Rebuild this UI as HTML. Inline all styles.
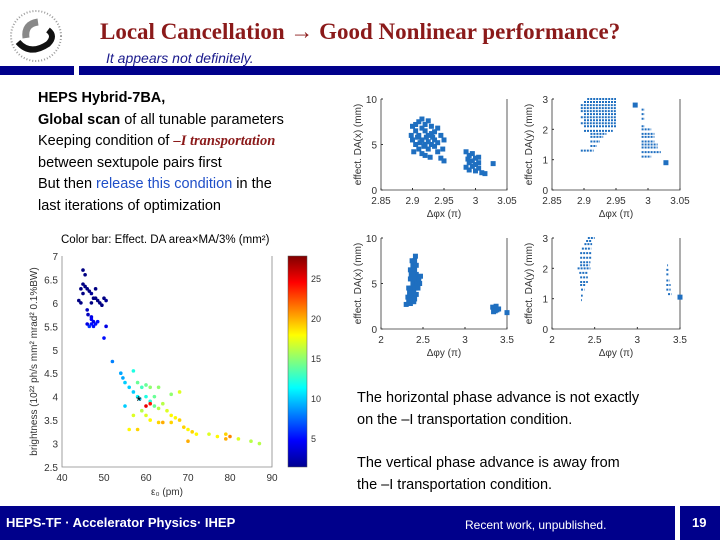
<!DOCTYPE html>
<html><head><meta charset="utf-8"><style>
body{margin:0;width:720px;height:540px;position:relative;background:#fff;overflow:hidden;font-family:"Liberation Sans",sans-serif}
.a{position:absolute;white-space:nowrap}
</style></head><body>
<svg class="a" style="left:8px;top:8px" width="58" height="58">
<circle cx="28" cy="28" r="25" fill="none" stroke="#999" stroke-width="2" stroke-dasharray="1 2"/>
<path d="M10 34 Q22 48 40 36 Q48 28 40 22" stroke="#111" stroke-width="6" fill="none"/>
<path d="M18 30 Q16 16 30 14" stroke="#888" stroke-width="7" fill="none"/>
</svg>
<div class="a" style="left:100px;top:19px;font:bold 23px 'Liberation Serif',serif;color:#8b1a1a">Local Cancellation → Good Nonlinear performance?</div>
<div class="a" style="left:106px;top:50px;font:italic 14px 'Liberation Sans',sans-serif;color:#1a1a8c">It appears not definitely.</div>
<div class="a" style="left:0;top:66px;width:74px;height:9px;background:#00008b"></div>
<div class="a" style="left:79px;top:66px;width:641px;height:9px;background:#00008b"></div>
<div class="a" style="left:38px;top:88px;font-size:14.5px;line-height:21.5px;color:#000">
<b>HEPS Hybrid-7BA,</b><br><b>Global scan</b> of all tunable parameters<br>Keeping condition of <b style="color:#8b1a1a;font-family:'Liberation Serif',serif;font-style:italic">–I transportation</b><br>between sextupole pairs first<br>But then <span style="color:#1f4fc8">release this condition</span> in the<br>last iterations of optimization</div>
<div class="a" style="left:61px;top:234px;font-size:11.5px">Color bar: Effect. DA area×MA/3% (mm²)</div>
<div class="a" style="left:357px;top:388px;font-size:14.5px;line-height:21.5px">The horizontal phase advance is not exactly<br>on the –I transportation condition.</div>
<div class="a" style="left:357px;top:453px;font-size:14.5px;line-height:21.5px">The vertical phase advance is away from<br>the –I transportation condition.</div>
<div class="a" style="left:0;top:506px;width:675px;height:34px;background:#00008b"></div>
<div class="a" style="left:680px;top:506px;width:40px;height:34px;background:#00008b"></div>
<div class="a" style="left:6px;top:515px;font:bold 13px 'Liberation Sans',sans-serif;color:#fff">HEPS-TF · Accelerator Physics· IHEP</div>
<div class="a" style="left:465px;top:518px;font-size:12px;color:#fff">Recent work, unpublished.</div>
<div class="a" style="left:692px;top:515px;font:bold 13px 'Liberation Sans',sans-serif;color:#fff">19</div>
<svg id="s" class="a" style="left:0;top:0" width="720" height="540"></svg>
<script>
// ---- data: small chart TL (x: Δφx, y: DA x) ----
const tlPts=[[2.9,7],[2.905,6.5],[2.91,7.5],[2.915,7.8],[2.92,7.2],[2.925,7.6],[2.93,7],[2.935,6.4],[2.94,6.8],[2.945,6],[2.95,5.5],[2.898,6],[2.9,5.5],[2.905,5],[2.91,4.5],[2.915,4],[2.92,3.8],[2.925,4.5],[2.93,5],[2.935,5.5],[2.94,4.2],[2.945,3.5],[2.95,3.2],[2.91,6],[2.915,5.5],[2.92,5],[2.925,6],[2.93,6.2],[2.92,6.5],[2.912,5.2],[2.918,4.8],[2.908,5.8],[2.935,4.8],[2.94,5.2],[2.948,4.5],[2.902,4.2],[2.928,3.6],[2.922,5.8],[2.915,6.8],[2.932,5.8],[2.905,7.2],[2.925,5.3],
[2.985,4.2],[2.99,3.8],[2.995,4],[3,3.5],[3.005,3],[2.99,3],[2.985,2.5],[2.99,2.2],[2.995,2.6],[3,2.1],[3.005,2.4],[3.01,1.9],[3.015,1.8],[2.995,3.2],[3,2.8],[2.988,3.4],[3.005,3.6],[3.028,2.9]];
// rows: [y, xStart, xEnd]
const trRows=[[3,2.905,2.95],[2.9,2.9,2.95],[2.8,2.895,2.95],[2.7,2.895,2.95],[2.6,2.895,2.95],[2.5,2.9,2.95],[2.4,2.895,2.95],[2.3,2.9,2.95],[2.2,2.895,2.95],[2.1,2.9,2.95],[1.95,2.9,2.945],[1.85,2.91,2.935],[1.75,2.91,2.93],[1.6,2.91,2.925],[1.45,2.91,2.92],[1.3,2.895,2.915],
[2.65,2.99,2.995],[2.5,2.99,2.995],[2.35,2.99,2.995],[2.1,2.99,2.995],[2,2.99,3.005],[1.85,2.99,3.01],[1.75,2.99,3.01],[1.6,2.99,3.01],[1.5,2.99,3.015],[1.4,2.99,3.015],[1.25,2.99,3.02],[1.1,2.99,3.005]];
const trPts=[[2.98,2.8],[3.028,0.9]];
const blPts=[[2.33,3],[2.35,2.8],[2.32,3.5],[2.34,4],[2.36,4.5],[2.38,5],[2.4,5.5],[2.42,6],[2.4,6.5],[2.38,7],[2.4,7.5],[2.41,8],[2.36,6],[2.35,5.5],[2.37,3.5],[2.39,4],[2.41,4.5],[2.43,5],[2.45,5.5],[2.44,4.5],[2.46,5],[2.42,3.8],[2.39,3],[2.33,4.5],[2.35,6.5],[2.38,6],[2.42,7],[2.37,7.5],[2.3,2.7],[2.34,3.2],[2.4,3.3],[2.47,5.8],
[3.33,2.4],[3.35,2.2],[3.37,2.5],[3.38,2.1],[3.34,1.9],[3.36,2],[3.4,2.2],[3.5,1.8]];
const brRows=[[3,2.42,2.5],[2.9,2.4,2.47],[2.8,2.38,2.47],[2.65,2.35,2.46],[2.5,2.33,2.47],[2.35,2.33,2.46],[2.2,2.33,2.45],[2.1,2.33,2.44],[2,2.3,2.45],[1.85,2.32,2.42],[1.7,2.33,2.42],[1.55,2.33,2.42],[1.45,2.33,2.4],[1.3,2.34,2.38],[1.1,2.34,2.36],[0.95,2.34,2.35],
[2.1,3.35,3.36],[1.95,3.34,3.37],[1.8,3.34,3.37],[1.6,3.34,3.38],[1.45,3.34,3.39],[1.3,3.34,3.39],[1.15,3.36,3.4]];
const brPts=[[3.5,1.05]];
// ---- big scatter: [emittance pm, brightness, effective DA area] ----
const bigPts=[[45,6.7,1.5],[45.5,6.6,1.5],[44.5,6.3,1.5],[45,6.4,1.5],[45.5,6.35,1.5],[46,6.3,1.5],[45,6.2,1.5],[46.5,6.25,1.5],[47,6.2,2],[48,6.3,1.5],[47.5,6.1,1.5],[48.5,6.05,1.5],[49,6.0,1.5],[49.5,5.95,1.5],[50,6.1,1.5],[50.5,6.05,2],[48,6.1,1.5],[47,6.0,1.5],[44,6.05,1.5],[44.5,6.0,1.5],[46,5.85,3],[46.2,5.75,3],[47,5.7,4],[47.5,5.6,4],[47,5.55,5],[48,5.55,5],[46.5,5.5,6],[47.5,5.5,5],[48.5,5.6,5],[46,5.55,4],[50.5,5.5,4],[50,5.25,5],[47,5.65,4.5],
[52,4.75,8],[54,4.5,9],[54.5,4.4,9],[55,4.3,10],[56,4.2,10],[57,4.1,10],[58,4.0,11],[58.5,3.95,10],[59,4.2,13],[60,4.25,14],[61,4.2,15],[58,4.3,14],[63,4.2,15],[62,4.0,14],[60,4.0,12],[61,3.9,12],[62,3.8,14],[63,3.75,16],[64,3.85,16],[65,3.7,17],[66,3.6,18],[67,3.55,18],[68,3.5,19],[66,3.45,19],[64,3.45,20],[63,3.45,19],[61,3.5,18],[60,3.6,17],[59,3.7,16],[57,3.6,17],[56,3.3,18],[58,3.3,19],[69,3.35,19],[70,3.3,18],[71,3.25,19],[72,3.2,18],[70,3.05,20],[75,3.2,17],[77,3.15,18],[79,3.2,19],[79,3.1,20],[80,3.15,21],[82,3.1,17],[85,3.05,16],[87,3.0,16],[57,4.55,12],[66,4.05,15],[68,4.1,17],[55,3.8,10],[61,3.85,24],[60,3.8,25]];
const bigXTicks=[40,50,60,70,80,90];
const bigYTicks=[2.5,3,3.5,4,4.5,5,5.5,6,6.5,7];
const cbTicks=[5,10,15,20,25];

const S=document.getElementById('s'),NS='http://www.w3.org/2000/svg';
function mk(t,a){const e=document.createElementNS(NS,t);for(const k in a)e.setAttribute(k,a[k]);S.appendChild(e);return e;}
function txt(x,y,s,anc,size,name){const e=mk('text',{x:x,y:y,'text-anchor':anc,'font-size':size,fill:'#333','font-family':'Liberation Sans,sans-serif'});e.textContent=s;

return e;}
function lin(d0,d1,r0,r1){return v=>r0+(v-d0)/(d1-d0)*(r1-r0);}
function panel(o){
 const X=lin(o.xd[0],o.xd[1],o.l,o.r),Y=lin(o.yd[0],o.yd[1],o.b,o.t);
 const ax=mk('path',{d:`M${o.l} ${o.t}V${o.b}H${o.r}V${o.t}`,stroke:'#333','stroke-width':0.8,fill:'none'});
 
 
 o.xt.forEach(v=>{txt(X(v),o.b+14,String(v),'middle',10,o.name+'-x-tick');mk('line',{x1:X(v),x2:X(v),y1:o.b,y2:o.b-2,stroke:'#333'});});
 o.yt.forEach(v=>{txt(o.l-4,Y(v)+4,String(v),'end',10,o.name+'-y-tick');mk('line',{x1:o.l,x2:o.l+2,y1:Y(v),y2:Y(v),stroke:'#333'});});
 txt((o.l+o.r)/2,o.b+27,o.xl,'middle',10,o.name+'-x-title');
 const yt=txt(0,0,o.yl,'middle',10,o.name+'-y-title');yt.setAttribute('transform',`translate(${o.l-20},${(o.t+o.b)/2}) rotate(-90)`);
 (o.pts||[]).forEach(p=>{const m=mk('rect',{x:X(p[0])-2.5,y:Y(p[1])-2.5,width:5,height:5,fill:'#1f6fc0'});
  
  });
 (o.rows||[]).forEach(r=>{const m=mk('line',{x1:X(r[1]),x2:X(r[2]),y1:Y(r[0]),y2:Y(r[0]),stroke:'#1f6fc0','stroke-width':2,'stroke-dasharray':'2 1'});
  
  });
}
panel({name:'da-x-vs-phix',l:381,r:507,t:99,b:190,xd:[2.85,3.05],yd:[0,10],xt:[2.85,2.9,2.95,3,3.05],yt:[0,5,10],xl:'Δφx (π)',yl:'effect. DA(x) (mm)',pts:tlPts});
panel({name:'da-y-vs-phix',l:552,r:680,t:99,b:190,xd:[2.85,3.05],yd:[0,3],xt:[2.85,2.9,2.95,3,3.05],yt:[0,1,2,3],xl:'Δφx (π)',yl:'effect. DA(y) (mm)',pts:trPts,rows:trRows});
panel({name:'da-x-vs-phiy',l:381,r:507,t:238,b:329,xd:[2,3.5],yd:[0,10],xt:[2,2.5,3,3.5],yt:[0,5,10],xl:'Δφy (π)',yl:'effect. DA(x) (mm)',pts:blPts});
panel({name:'da-y-vs-phiy',l:552,r:680,t:238,b:329,xd:[2,3.5],yd:[0,3],xt:[2,2.5,3,3.5],yt:[0,1,2,3],xl:'Δφy (π)',yl:'effect. DA(y) (mm)',pts:brPts,rows:brRows});

// big scatter
function jet(t){t=Math.max(0,Math.min(1,t));const f=(a)=>Math.round(255*Math.max(0,Math.min(1,1.5-Math.abs(4*t-a))));return `rgb(${f(3)},${f(2)},${f(1)})`;}
const BL=62,BR=272,BT=256,BB=467,C0=1.4,C1=27.75;
const BX=lin(40,90,BL,BR),BY=lin(2.5,7,BB,BT),CY=lin(C0,C1,BB,BT);
const bax=mk('path',{d:`M${BL} ${BT}V${BB}H${BR}V${BT}`,stroke:'#888','stroke-width':0.8,fill:'none'});


bigXTicks.forEach(v=>txt(BX(v),BB+14,String(v),'middle',10,'brightness-x-tick'));
bigYTicks.forEach(v=>txt(BL-4,BY(v)+4,String(v),'end',10,'brightness-y-tick'));
txt((BL+BR)/2,BB+28,'ε₀ (pm)','middle',10,'brightness-x-title');
const byt=txt(0,0,'brightness (10²² ph/s mm² mrad² 0.1%BW)','middle',10,'brightness-y-title');byt.setAttribute('transform',`translate(${BL-25},${(BT+BB)/2}) rotate(-90)`);
bigPts.forEach(p=>{const m=mk('circle',{cx:BX(p[0]),cy:BY(p[1]),r:1.8,fill:jet((p[2]-C0)/(C1-C0))});
 
 });
const star=txt(BX(58.3),BY(3.92)+5,'*','middle',14,'reference-marker');star.setAttribute('fill','#000');
const g=mk('linearGradient',{id:'jg',x1:0,y1:1,x2:0,y2:0});
[[0,'#00008f'],[0.125,'#0000ff'],[0.375,'#00ffff'],[0.625,'#ffff00'],[0.875,'#ff0000'],[1,'#800000']].forEach(s=>{const st=document.createElementNS(NS,'stop');st.setAttribute('offset',s[0]);st.setAttribute('stop-color',s[1]);g.appendChild(st);});
const cb=mk('rect',{x:288,y:BT,width:19,height:BB-BT,fill:'url(#jg)',stroke:'#555','stroke-width':0.5});


cbTicks.forEach(v=>txt(311,CY(v)+4,String(v),'start',9,'colorbar-tick'));
</script>
</body></html>
